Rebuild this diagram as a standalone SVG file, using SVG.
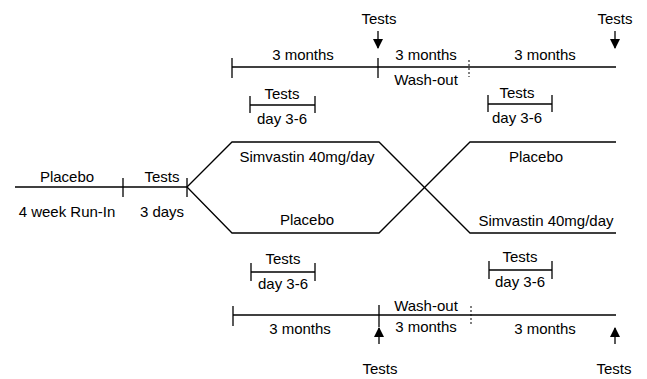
<svg xmlns="http://www.w3.org/2000/svg" width="647" height="379" viewBox="0 0 647 379">
<style>
text{font-family:"Liberation Sans",Arial,sans-serif;font-size:15px;fill:#000;text-anchor:middle}
.ln{stroke:#000;stroke-width:1.3;fill:none}
.dash{stroke:#000;stroke-width:1;stroke-dasharray:2 2;fill:none}
</style>
<defs>
<marker id="ah" viewBox="0 0 10 10" refX="9" refY="5" markerWidth="10" markerHeight="10" markerUnits="userSpaceOnUse" orient="auto">
<path d="M0,0 L10,5 L0,10 Z" fill="#000"/>
</marker>
</defs>
<g id="runin">
<line class="ln" x1="15" y1="187" x2="187" y2="187"/>
<line class="ln" x1="123" y1="178" x2="123" y2="197"/>
<line class="ln" x1="187" y1="178" x2="187" y2="197"/>
<text x="67" y="182">Placebo</text>
<text x="67" y="217">4 week Run-In</text>
<text x="162" y="182">Tests</text>
<text x="162" y="217">3 days</text>
</g>
<g id="connectors">
<polyline class="ln" points="187,187 232,142 379,142 470,233 616,233"/>
<polyline class="ln" points="187,187 232,233 379,233 470,142 616,142"/>
</g>
<g id="arms">
<text x="307" y="162">Simvastin 40mg/day</text>
<text x="307" y="225">Placebo</text>
<text x="536" y="162">Placebo</text>
<text x="546" y="226">Simvastin 40mg/day</text>
</g>
<g id="top-timeline">
<line class="ln" x1="232" y1="67" x2="616" y2="67"/>
<line class="ln" x1="232" y1="58" x2="232" y2="78"/>
<line class="ln" x1="378" y1="58" x2="378" y2="78"/>
<line class="dash" x1="469" y1="60" x2="469" y2="77"/>
<text x="303" y="60">3 months</text>
<text x="426" y="60">3 months</text>
<text x="545" y="60">3 months</text>
<text x="426" y="85">Wash-out</text>
<text x="379" y="24">Tests</text>
<line class="ln" x1="378" y1="31" x2="378" y2="48" marker-end="url(#ah)"/>
<text x="615" y="24">Tests</text>
<line class="ln" x1="615" y1="31" x2="615" y2="48" marker-end="url(#ah)"/>
</g>
<g id="top-tests-left">
<line class="ln" x1="250" y1="105" x2="315" y2="105"/>
<line class="ln" x1="250" y1="96" x2="250" y2="113"/>
<line class="ln" x1="315" y1="96" x2="315" y2="113"/>
<text x="282" y="99">Tests</text>
<text x="282" y="124">day 3-6</text>
</g>
<g id="top-tests-right">
<line class="ln" x1="488" y1="104" x2="552" y2="104"/>
<line class="ln" x1="488" y1="95" x2="488" y2="112"/>
<line class="ln" x1="552" y1="95" x2="552" y2="112"/>
<text x="517" y="98">Tests</text>
<text x="517" y="123">day 3-6</text>
</g>
<g id="bottom-tests-left">
<line class="ln" x1="251" y1="272" x2="315" y2="272"/>
<line class="ln" x1="251" y1="263" x2="251" y2="281"/>
<line class="ln" x1="315" y1="263" x2="315" y2="281"/>
<text x="283" y="264">Tests</text>
<text x="283" y="289">day 3-6</text>
</g>
<g id="bottom-tests-right">
<line class="ln" x1="489" y1="270" x2="552" y2="270"/>
<line class="ln" x1="489" y1="261" x2="489" y2="279"/>
<line class="ln" x1="552" y1="261" x2="552" y2="279"/>
<text x="520" y="262">Tests</text>
<text x="520" y="287">day 3-6</text>
</g>
<g id="bottom-timeline">
<line class="ln" x1="233" y1="315" x2="616" y2="315"/>
<line class="ln" x1="233" y1="306" x2="233" y2="326"/>
<line class="ln" x1="379" y1="305" x2="379" y2="327"/>
<line class="dash" x1="471" y1="306" x2="471" y2="325"/>
<text x="300" y="334">3 months</text>
<text x="426" y="332">3 months</text>
<text x="545" y="334">3 months</text>
<text x="426" y="311">Wash-out</text>
<line class="ln" x1="379" y1="344" x2="379" y2="328" marker-end="url(#ah)"/>
<text x="380" y="374">Tests</text>
<line class="ln" x1="615" y1="344" x2="615" y2="328" marker-end="url(#ah)"/>
<text x="614" y="374">Tests</text>
</g>
</svg>
